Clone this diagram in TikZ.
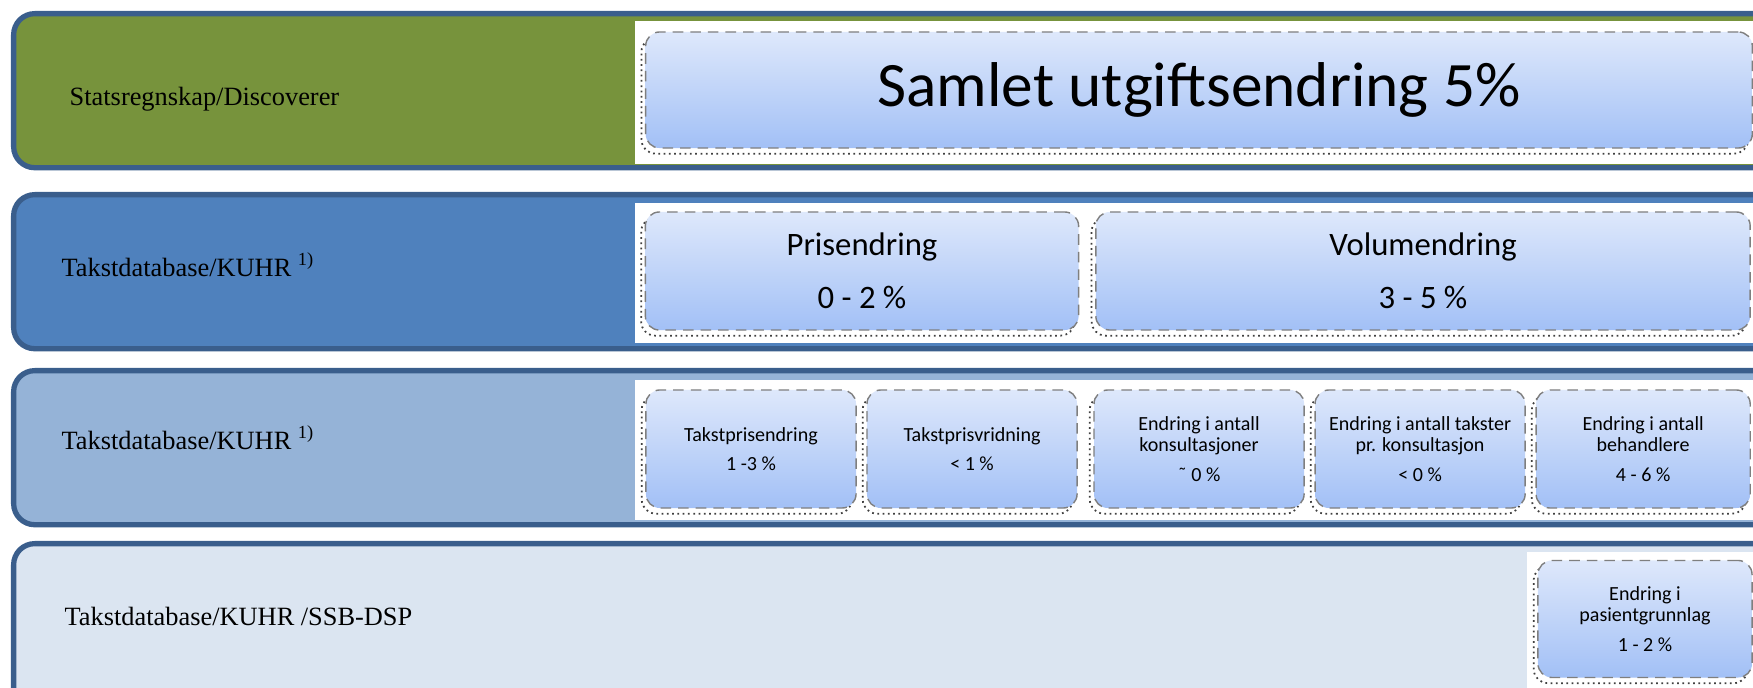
\documentclass[tikz,border=0pt]{standalone}
\usepackage{fontspec}
\setmainfont{Liberation Serif}
\newfontfamily\calibri{Carlito}
\usetikzlibrary{positioning, calc}
\definecolor{bandedge}{HTML}{3A5E8C}
\definecolor{levelone}{HTML}{77933C}
\definecolor{leveltwo}{HTML}{4F81BD}
\definecolor{levelthree}{HTML}{95B3D7}
\definecolor{levelfour}{HTML}{DBE5F1}
\definecolor{boxtop}{HTML}{DEE8FB}
\definecolor{boxbottom}{HTML}{A2C0F6}
\definecolor{boxedge}{HTML}{7F7F7F}
\tikzset{
  % Level bands
  band/.style={
    rectangle, rounded corners=6pt, draw=bandedge, fill=#1,
    line width=1.5pt, anchor=north west, inner sep=0pt,
    minimum width=17.9cm, minimum height=1.54cm,
  },
  band/.default={levelone},
  % Data source labels
  source/.style={anchor=west, inner sep=0pt, text=black,
    font=\fontsize{7.5}{9}\selectfont},
  % White backing behind the boxes
  panel/.style={fill=white},
  % Measure boxes
  measure/.style={
    rectangle, rounded corners=4pt, top color=boxtop, bottom color=boxbottom,
    draw=boxedge, densely dashed, line width=0.4pt, align=center, text=black,
    font=\calibri\fontsize{5.7}{6.1}\selectfont, inner sep=0pt,
    minimum width=2.1cm, minimum height=1.18cm,
    preaction={draw=black!75, densely dotted, line width=0.5pt,
      transform canvas={xshift=-1.2pt, yshift=-1.6pt}},
  },
}
\begin{document}
\begin{tikzpicture}[x=0.01cm, y=-0.01cm]
  \useasboundingbox (0,0) rectangle (1753,688);
  \clip (0,0) rectangle (1753,688);

  % Bands
  \node[band=levelone] (bandone) at (11,11) {};
  \node[band=leveltwo] (bandtwo) at (11,192) {};
  \node[band=levelthree] (bandthree) at (11,368) {};
  \node[band=levelfour, minimum height=2.2cm] (bandfour) at (11,541) {};

  % Source labels
  \node[source] (srcone) at (69,99) {Statsregnskap/Discoverer};
  \node[source] (srctwo) at (61,265) {Takstdatabase/KUHR \textsuperscript{1)}};
  \node[source] (srcthree) at (61,438) {Takstdatabase/KUHR \textsuperscript{1)}};
  \node[source] (srcfour) at (64,616) {Takstdatabase/KUHR /SSB-DSP};

  % White backing
  \fill[panel] (635,21) rectangle (1760,164);
  \fill[panel] (635,203) rectangle (1760,343);
  \fill[panel] (635,380) rectangle (1760,520);
  \fill[panel] (1527,552) rectangle (1760,700);

  % Total
  \node[measure, minimum width=11.06cm, minimum height=1.16cm,
    font=\calibri\fontsize{18}{20}\selectfont] (total) at (1199,90)
    {Samlet utgiftsendring 5\%};

  % Price and volume
  \node[measure, minimum width=4.33cm, font=\calibri\fontsize{9.3}{15}\selectfont]
    (prisendring) at (862,271) {Prisendring\\0 - 2 \%};
  \node[measure, minimum width=6.54cm, font=\calibri\fontsize{9.3}{15}\selectfont]
    (volumendring) at (1423,271) {Volumendring\\3 - 5 \%};

  % Components
  \node[measure] (takstpris) at (751,449) {Takstprisendring\\[2.3pt]1 -3 \%};
  \node[measure, right=0.095cm of takstpris] (takstvrid)
    {Takstprisvridning\\[2.3pt]< 1 \%};
  \node[measure, right=0.155cm of takstvrid] (konsult)
    {Endring i antall\\konsultasjoner\\[2.3pt]˜ 0 \%};
  \node[measure, right=0.095cm of konsult] (takster)
    {Endring i antall takster\\pr. konsultasjon\\[2.3pt]< 0 \%};
  \node[measure, right=0.095cm of takster, minimum width=2.14cm] (behandlere)
    {Endring i antall\\behandlere\\[2.3pt]4 - 6 \%};

  % Patient base
  \node[measure, minimum width=2.14cm, minimum height=1.17cm] (pasient) at (1645,619)
    {Endring i\\pasientgrunnlag\\[2.3pt]1 - 2 \%};
\end{tikzpicture}
\end{document}
